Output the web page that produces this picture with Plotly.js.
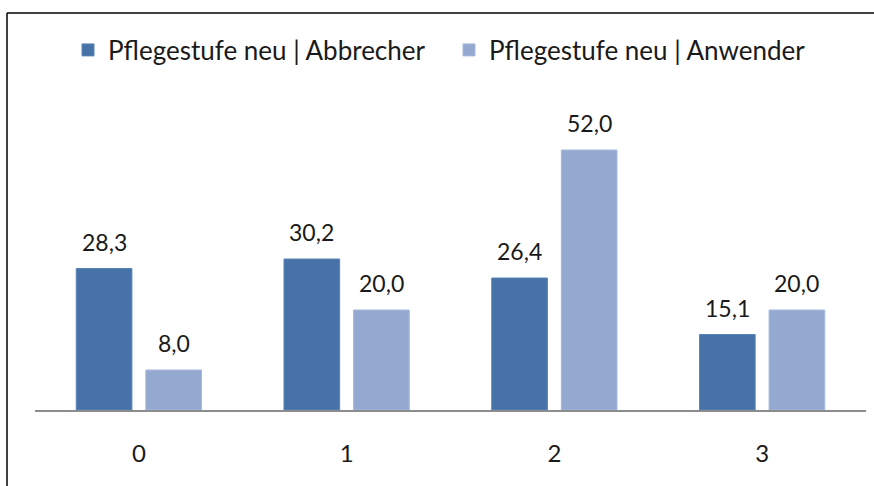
<!DOCTYPE html>
<html>
<head>
<meta charset="utf-8">
<script src="https://cdn.plot.ly/plotly-3.0.1.min.js"></script>
<style>html,body{margin:0;padding:0;background:#fff;}#chart{width:874px;height:486px;}</style>
</head>
<body>
<div id="chart"></div>
<script>
const categories = ['0', '1', '2', '3'];
const seriesNames = ['Pflegestufe neu | Abbrecher', 'Pflegestufe neu | Anwender'];
const abbrecher = [28.3, 30.2, 26.4, 15.1];
const anwender = [8.0, 20.0, 52.0, 20.0];

const W = 874, H = 486;
const M = {l: 35, r: 8, t: 110, b: 76};
const plotW = W - M.l - M.r, plotH = H - M.t - M.b;
const px2x = p => (p - M.l) / plotW;
const px2y = p => (H - M.b - p) / plotH;

const colors = ['#4672A8', '#94A9D0'];
const bargap = 0.33;
const fontFam = 'Lato, "Open Sans", sans-serif';
const fmt = v => v.toFixed(1).replace('.', ',');

const xs = categories.map((c, i) => i);
const traces = [abbrecher, anwender].map((vals, k) => ({
  type: 'bar',
  name: seriesNames[k],
  x: xs,
  y: vals,
  marker: {color: colors[k], line: {color: k === 0 ? '#5a84b6' : '#a6b8da', width: 1}},
  hoverinfo: 'skip'
}));

const slot = (1 - bargap) / 2;
const annotations = [];
[abbrecher, anwender].forEach((vals, k) => {
  vals.forEach((v, i) => {
    annotations.push({
      x: xs[i] + (k === 0 ? -slot / 2 : slot / 2),
      y: v, xref: 'x', yref: 'y',
      text: fmt(v), showarrow: false,
      yanchor: 'middle', yshift: 27,
      font: {family: fontFam, size: 23, color: '#1a1a1a'}
    });
  });
});

const layout = {
  width: W, height: H,
  margin: M,
  paper_bgcolor: '#fff', plot_bgcolor: '#fff',
  barmode: 'group', bargap: bargap, bargroupgap: 0.2,
  showlegend: true,
  legend: {
    orientation: 'h', x: px2x(68), y: px2y(50), xanchor: 'left', yanchor: 'middle',
    font: {family: fontFam, size: 26, color: '#1a1a1a'},
    entrywidth: 336, entrywidthmode: 'pixels',
    traceorder: 'normal', bgcolor: 'rgba(0,0,0,0)'
  },
  xaxis: {
    range: [-0.5, 3.5], tickvals: xs, ticktext: categories,
    showline: true, linecolor: '#8c8c8c', linewidth: 2,
    ticks: '', showgrid: false, zeroline: false, fixedrange: true,
    ticklabelstandoff: 21,
    tickfont: {family: fontFam, size: 24, color: '#1a1a1a'}
  },
  yaxis: {range: [0, 60], visible: false, showgrid: false, zeroline: false, fixedrange: true},
  annotations: annotations,
  shapes: [
    {type: 'line', xref: 'paper', yref: 'paper', x0: px2x(7), x1: px2x(874), y0: px2y(13), y1: px2y(13), line: {color: '#000', width: 1.5}},
    {type: 'line', xref: 'paper', yref: 'paper', x0: px2x(7), x1: px2x(7), y0: px2y(13), y1: px2y(486), line: {color: '#000', width: 1.5}}
  ],
  font: {family: fontFam}
};

Plotly.newPlot('chart', traces, layout, {staticPlot: true, displayModeBar: false});
</script>
</body>
</html>
